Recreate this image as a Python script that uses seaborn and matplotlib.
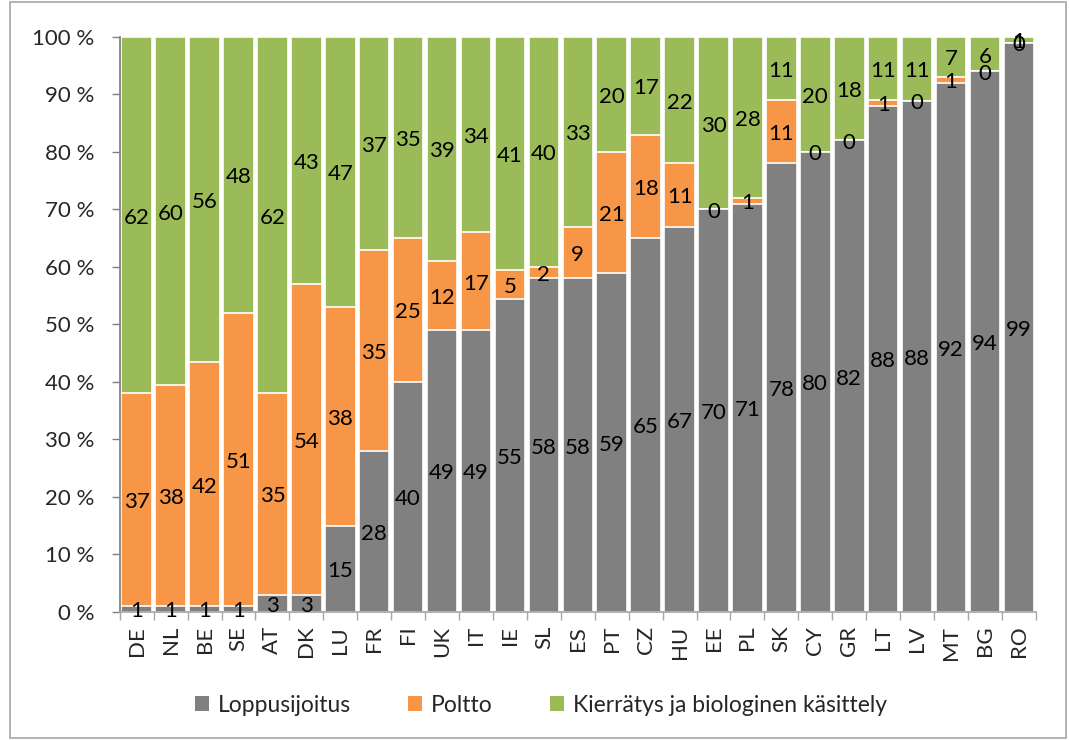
import numpy as np
import pandas as pd
import matplotlib
matplotlib.use("Agg")
import matplotlib.pyplot as plt
import seaborn as sns
from matplotlib.patches import Rectangle, Patch

countries = ["DE", "NL", "BE", "SE", "AT", "DK", "LU", "FR", "FI", "UK", "IT", "IE", "SL", "ES",
             "PT", "CZ", "HU", "EE", "PL", "SK", "CY", "GR", "LT", "LV", "MT", "BG", "RO"]
loppusijoitus = [1, 1, 1, 1, 3, 3, 15, 28, 40, 49, 49, 55, 58, 58, 59, 65, 67, 70, 71, 78, 80, 82, 88, 88, 92, 94, 99]
poltto = [37, 38, 42, 51, 35, 54, 38, 35, 25, 12, 17, 5, 2, 9, 21, 18, 11, 0, 1, 11, 0, 0, 1, 0, 1, 0, 0]
kierratys = [62, 60, 56, 48, 62, 43, 47, 37, 35, 39, 34, 41, 40, 33, 20, 17, 22, 30, 28, 11, 20, 18, 11, 11, 7, 6, 1]
series_names = ["Loppusijoitus", "Poltto", "Kierrätys ja biologinen käsittely"]
colors = ["#808080", "#F79646", "#9BBB59"]

sns.set_theme(style="white")
plt.rcParams["font.family"] = ["Lato", "DejaVu Sans"]

vals = np.array([loppusijoitus, poltto, kierratys], dtype=float)
share = vals / vals.sum(axis=0) * 100
cum = np.cumsum(share, axis=0)

fig = plt.figure(figsize=(10.69, 7.40), dpi=100)
ax = fig.add_axes([0.112, 0.173, 0.857, 0.777])

# draw layers back to front
for k in [2, 1, 0]:
    df = pd.DataFrame({"country": countries, "value": cum[k]})
    sns.barplot(data=df, x="country", y="value", color=colors[k], saturation=1,
                width=0.9, edgecolor="white", linewidth=1.2, ax=ax, zorder=2)

# labels
for k in range(3):
    bottoms = cum[k] - share[k]
    for i in range(len(countries)):
        ax.text(i, bottoms[i] + share[k][i] / 2 - 0.4, f"{int(vals[k][i])}", ha="center", va="center",
                fontsize=16, color="black", zorder=5)

ax.set_xlim(-0.5, len(countries) - 0.5)
ax.set_ylim(0, 100)
ax.set_yticks(np.arange(0, 101, 10))
ax.set_yticklabels([f"{v} %" for v in range(0, 101, 10)], fontsize=16)
ax.set_xticks(range(len(countries)))
ax.set_xticklabels(countries, rotation=90, fontsize=16)
ax.tick_params(axis="x", length=0, pad=10)
ax.set_xticks(np.arange(-0.5, len(countries), 1), minor=True)
ax.tick_params(axis="x", which="minor", length=6, width=1, color="#a6a6a6", direction="out", bottom=True)
ax.tick_params(axis="y", length=6, width=1, color="#808080", direction="out", left=True, pad=12)
ax.set_xlabel("")
ax.set_ylabel("")
ax.grid(False)
for s in ["top", "right"]:
    ax.spines[s].set_visible(False)
ax.spines["left"].set_color("#808080")
ax.spines["bottom"].set_color("#a6a6a6")

handles = [Patch(facecolor=c, edgecolor="none") for c in colors]
fig.legend(handles, series_names, loc="center", bbox_to_anchor=(0.506, 0.047), ncol=3,
           frameon=False, fontsize=16.5, handlelength=0.6, handleheight=0.6, handletextpad=0.4,
           columnspacing=2.5)

fig.patches.append(Rectangle((0.009, 0.003), 0.988, 0.994, transform=fig.transFigure,
                             fill=False, edgecolor="#a6a6a6", linewidth=1.2))

fig.savefig("out.png", dpi=100, facecolor="white")
